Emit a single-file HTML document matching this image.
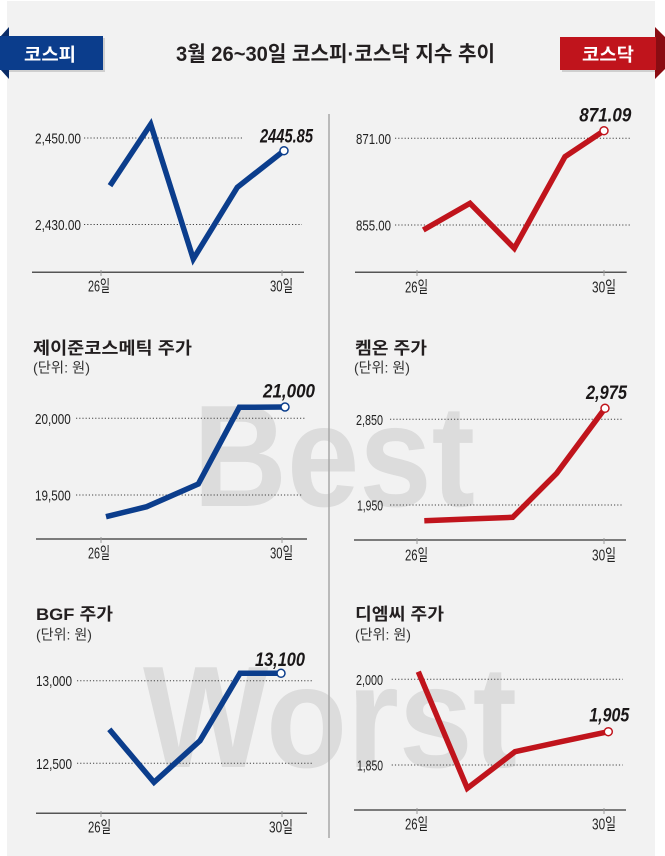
<!DOCTYPE html>
<html>
<head>
<meta charset="utf-8">
<style>
html,body{margin:0;padding:0;background:#fff;}
svg{display:block;}
.kt{font-family:"Liberation Sans","Noto Sans CJK KR",sans-serif;font-weight:bold;}
.tk{font-family:"Liberation Sans Narrow","Liberation Sans",sans-serif;font-size:15px;fill:#222;}
.xl{font-family:"Liberation Sans Narrow","Liberation Sans","Noto Sans CJK KR",sans-serif;font-size:16px;fill:#222;}
.vl{font-family:"Liberation Sans",sans-serif;font-weight:bold;font-style:italic;font-size:19px;fill:#1a1718;}
.ti{font-family:"Liberation Sans","Noto Sans CJK KR",sans-serif;font-weight:bold;font-size:17px;fill:#231f20;}
.un{font-family:"Liberation Sans","Noto Sans CJK KR",sans-serif;font-size:14px;fill:#333;}
.gr{stroke:#444;stroke-width:1;stroke-dasharray:1.2 2;fill:none;}
.ax{stroke:#555;stroke-width:1.5;fill:none;}
.tc{stroke:#999;stroke-width:1;}
.wm{font-family:"Liberation Sans",sans-serif;font-weight:bold;font-size:145px;fill:#dcdcdc;}
</style>
</head>
<body>
<svg width="665" height="856" viewBox="0 0 665 856" xmlns="http://www.w3.org/2000/svg">
  <rect x="0" y="0" width="665" height="856" fill="#ffffff"/>
  <rect x="7" y="1" width="648" height="855" fill="#f2f2f2"/>

  <!-- watermarks -->
  <text class="wm" x="193" y="506" textLength="282" lengthAdjust="spacingAndGlyphs">Best</text>
  <text class="wm" x="143" y="767" textLength="374" lengthAdjust="spacingAndGlyphs">Worst</text>

  <!-- divider -->
  <line x1="329" y1="114" x2="329" y2="838" stroke="#a8a8a8" stroke-width="1.5"/>

  <!-- header tabs -->
  <rect x="3" y="38" width="102" height="34" fill="#cfcfcf"/>
  <polygon points="0,37 9,27 9,79 0,69" fill="#0a2b66"/>
  <rect x="0" y="36" width="103" height="34" fill="#0b3d8c"/>
  <text class="kt" x="24" y="61" font-size="18" fill="#fff" textLength="52" lengthAdjust="spacingAndGlyphs">코스피</text>

  <rect x="562" y="39" width="93" height="33" fill="#cfcfcf"/>
  <polygon points="655,27 665,37 665,69 655,79" fill="#8a0c12"/>
  <rect x="560" y="37" width="96" height="33" fill="#c0141c"/>
  <text class="kt" x="582" y="61" font-size="18" fill="#fff" textLength="52" lengthAdjust="spacingAndGlyphs">코스닥</text>

  <text class="kt" x="176" y="61" font-size="21" fill="#231f20" textLength="319" lengthAdjust="spacingAndGlyphs">3월 26~30일  코스피·코스닥 지수 추이</text>

  <!-- Chart 1: KOSPI -->
  <line class="gr" x1="84" y1="138" x2="243" y2="138"/>
  <line class="gr" x1="84" y1="224.5" x2="302" y2="224.5"/>
  <text class="tk" x="35" y="143.5" textLength="46" lengthAdjust="spacingAndGlyphs">2,450.00</text>
  <text class="tk" x="35" y="230" textLength="46" lengthAdjust="spacingAndGlyphs">2,430.00</text>
  <line class="ax" x1="32" y1="272.3" x2="304" y2="272.3"/>
  <line class="tc" x1="101" y1="270" x2="101" y2="276"/>
  <line class="tc" x1="282" y1="270" x2="282" y2="276"/>
  <text class="xl" x="88" y="291.5" textLength="22" lengthAdjust="spacingAndGlyphs">26일</text>
  <text class="xl" x="270" y="291.5" textLength="23" lengthAdjust="spacingAndGlyphs">30일</text>
  <polyline points="110,185.7 150.7,124.3 193.3,259 237.3,187.3 284,150.7" fill="none" stroke="#0b3d8c" stroke-width="5.5" stroke-linejoin="miter"/>
  <circle cx="284" cy="150.7" r="4" fill="#fff" stroke="#0b3d8c" stroke-width="1.5"/>
  <text class="vl" x="260" y="142.7" textLength="53" lengthAdjust="spacingAndGlyphs">2445.85</text>

  <!-- Chart 2: KOSDAQ -->
  <line class="gr" x1="395" y1="138.3" x2="630" y2="138.3"/>
  <line class="gr" x1="395" y1="225" x2="630" y2="225"/>
  <text class="tk" x="356" y="143.8" textLength="35" lengthAdjust="spacingAndGlyphs">871.00</text>
  <text class="tk" x="356" y="230.5" textLength="35" lengthAdjust="spacingAndGlyphs">855.00</text>
  <line class="ax" x1="355" y1="272.3" x2="626.7" y2="272.3"/>
  <line class="tc" x1="417" y1="270" x2="417" y2="276"/>
  <line class="tc" x1="604" y1="270" x2="604" y2="276"/>
  <text class="xl" x="405" y="292.5" textLength="23" lengthAdjust="spacingAndGlyphs">26일</text>
  <text class="xl" x="592" y="292.5" textLength="24" lengthAdjust="spacingAndGlyphs">30일</text>
  <polyline points="423.3,230 470,203.3 514.3,248.3 565,156.7 604,130.7" fill="none" stroke="#c0141c" stroke-width="5.5" stroke-linejoin="miter"/>
  <circle cx="604" cy="130.7" r="4" fill="#fff" stroke="#c0141c" stroke-width="1.5"/>
  <text class="vl" x="579.3" y="121.7" textLength="52" lengthAdjust="spacingAndGlyphs">871.09</text>

  <!-- Chart 3: 제이준코스메틱 -->
  <text class="ti" x="33" y="354" textLength="159" lengthAdjust="spacingAndGlyphs">제이준코스메틱 주가</text>
  <text class="un" x="33" y="372.5" textLength="57" lengthAdjust="spacingAndGlyphs">(단위: 원)</text>
  <line class="gr" x1="76" y1="418.3" x2="305" y2="418.3"/>
  <line class="gr" x1="76" y1="495" x2="302" y2="495"/>
  <text class="tk" x="35" y="423.8" textLength="35.7" lengthAdjust="spacingAndGlyphs">20,000</text>
  <text class="tk" x="35" y="500.5" textLength="35.7" lengthAdjust="spacingAndGlyphs">19,500</text>
  <line class="ax" x1="36" y1="539" x2="307" y2="539"/>
  <line class="tc" x1="101" y1="537" x2="101" y2="543"/>
  <line class="tc" x1="282" y1="537" x2="282" y2="543"/>
  <text class="xl" x="88" y="558.5" textLength="22" lengthAdjust="spacingAndGlyphs">26일</text>
  <text class="xl" x="270" y="558.5" textLength="23" lengthAdjust="spacingAndGlyphs">30일</text>
  <polyline points="106,516.7 146.7,506.7 198.3,484 239.3,407.3 285,407" fill="none" stroke="#0b3d8c" stroke-width="5.5" stroke-linejoin="miter"/>
  <circle cx="285" cy="407" r="4" fill="#fff" stroke="#0b3d8c" stroke-width="1.5"/>
  <text class="vl" x="263" y="397.3" textLength="52" lengthAdjust="spacingAndGlyphs">21,000</text>

  <!-- Chart 4: 켐온 -->
  <text class="ti" x="355" y="354" textLength="72" lengthAdjust="spacingAndGlyphs">켐온 주가</text>
  <text class="un" x="354" y="372.5" textLength="56" lengthAdjust="spacingAndGlyphs">(단위: 원)</text>
  <line class="gr" x1="390" y1="419.3" x2="622" y2="419.3"/>
  <line class="gr" x1="390" y1="505" x2="622" y2="505"/>
  <text class="tk" x="356" y="424.8" textLength="27" lengthAdjust="spacingAndGlyphs">2,850</text>
  <text class="tk" x="357" y="510.5" textLength="26" lengthAdjust="spacingAndGlyphs">1,950</text>
  <line class="ax" x1="354" y1="540" x2="626" y2="540"/>
  <line class="tc" x1="417" y1="538" x2="417" y2="544"/>
  <line class="tc" x1="604" y1="538" x2="604" y2="544"/>
  <text class="xl" x="405" y="560.5" textLength="23" lengthAdjust="spacingAndGlyphs">26일</text>
  <text class="xl" x="592" y="560.5" textLength="24" lengthAdjust="spacingAndGlyphs">30일</text>
  <polyline points="424.3,520.7 468,519 512.7,517.3 556.7,473.3 605,408.3" fill="none" stroke="#c0141c" stroke-width="5.5" stroke-linejoin="miter"/>
  <circle cx="605" cy="408.3" r="4" fill="#fff" stroke="#c0141c" stroke-width="1.5"/>
  <text class="vl" x="586" y="399" textLength="41" lengthAdjust="spacingAndGlyphs">2,975</text>

  <!-- Chart 5: BGF -->
  <text class="ti" x="36" y="620" textLength="77" lengthAdjust="spacingAndGlyphs">BGF 주가</text>
  <text class="un" x="36" y="639.5" textLength="56" lengthAdjust="spacingAndGlyphs">(단위: 원)</text>
  <line class="gr" x1="77" y1="680.7" x2="312" y2="680.7"/>
  <line class="gr" x1="77" y1="763.3" x2="312" y2="763.3"/>
  <text class="tk" x="36" y="686.2" textLength="36" lengthAdjust="spacingAndGlyphs">13,000</text>
  <text class="tk" x="36" y="768.8" textLength="36" lengthAdjust="spacingAndGlyphs">12,500</text>
  <line class="ax" x1="36" y1="813.3" x2="307" y2="813.3"/>
  <line class="tc" x1="101" y1="811" x2="101" y2="817"/>
  <line class="tc" x1="282" y1="811" x2="282" y2="817"/>
  <text class="xl" x="88" y="832.5" textLength="23" lengthAdjust="spacingAndGlyphs">26일</text>
  <text class="xl" x="269" y="832.5" textLength="24" lengthAdjust="spacingAndGlyphs">30일</text>
  <polyline points="109.3,729.3 154,782.3 200,740.7 240,673.3 281,673.3" fill="none" stroke="#0b3d8c" stroke-width="5.5" stroke-linejoin="miter"/>
  <circle cx="281" cy="673.3" r="4" fill="#fff" stroke="#0b3d8c" stroke-width="1.5"/>
  <text class="vl" x="255" y="666" textLength="50" lengthAdjust="spacingAndGlyphs">13,100</text>

  <!-- Chart 6: 디엠씨 -->
  <text class="ti" x="355" y="620" textLength="89" lengthAdjust="spacingAndGlyphs">디엠씨 주가</text>
  <text class="un" x="355" y="639.5" textLength="56" lengthAdjust="spacingAndGlyphs">(단위: 원)</text>
  <line class="gr" x1="391.7" y1="679.3" x2="622.7" y2="679.3"/>
  <line class="gr" x1="391.7" y1="765" x2="622.7" y2="765"/>
  <text class="tk" x="356" y="684.8" textLength="27" lengthAdjust="spacingAndGlyphs">2,000</text>
  <text class="tk" x="357" y="770.5" textLength="26" lengthAdjust="spacingAndGlyphs">1,850</text>
  <line class="ax" x1="354" y1="810" x2="626" y2="810"/>
  <line class="tc" x1="417" y1="808" x2="417" y2="814"/>
  <line class="tc" x1="604" y1="808" x2="604" y2="814"/>
  <text class="xl" x="405" y="829.5" textLength="23" lengthAdjust="spacingAndGlyphs">26일</text>
  <text class="xl" x="592" y="829.5" textLength="24" lengthAdjust="spacingAndGlyphs">30일</text>
  <polyline points="418.3,671.7 467.3,788.3 515,751.7 561,741.7 608.3,731.7" fill="none" stroke="#c0141c" stroke-width="5.5" stroke-linejoin="miter"/>
  <circle cx="608.3" cy="731.7" r="4" fill="#fff" stroke="#c0141c" stroke-width="1.5"/>
  <text class="vl" x="589.3" y="721.7" textLength="40" lengthAdjust="spacingAndGlyphs">1,905</text>
</svg>
</body>
</html>
